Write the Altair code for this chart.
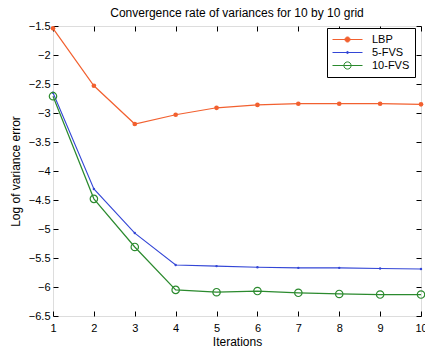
import altair as alt
import pandas as pd

iterations = [1, 2, 3, 4, 5, 6, 7, 8, 9, 10]
lbp = [-1.54, -2.53, -3.19, -3.03, -2.91, -2.86, -2.84, -2.84, -2.84, -2.85]
fvs5 = [-2.65, -4.31, -5.07, -5.62, -5.64, -5.66, -5.67, -5.67, -5.68, -5.69]
fvs10 = [-2.71, -4.48, -5.31, -6.05, -6.09, -6.07, -6.10, -6.12, -6.13, -6.13]
series_names = ["LBP", "5-FVS", "10-FVS"]
series_colors = ["#f2602f", "#3346d6", "#2b8a2e"]
x_ticks = [1, 2, 3, 4, 5, 6, 7, 8, 9, 10]
y_ticks = [-6.5, -6, -5.5, -5, -4.5, -4, -3.5, -3, -2.5, -2, -1.5]

rows = []
for name, vals in zip(series_names, [lbp, fvs5, fvs10]):
    for it, v in zip(iterations, vals):
        rows.append({"series": name, "iter": it, "value": v})
df = pd.DataFrame(rows)

W, H = 368, 290
FONT = "Liberation Sans"

xscale = alt.Scale(domain=[1, 10], nice=False, zero=False)
yscale = alt.Scale(domain=[-6.5, -1.5], nice=False, zero=False)


def X(axis):
    return alt.X("iter:Q", scale=xscale, axis=axis)


def Y(axis):
    return alt.Y("value:Q", scale=yscale, axis=axis)


main_x = alt.Axis(title="Iterations", values=x_ticks, tickSize=0, labelPadding=6,
                  domain=False, grid=False, labelFontSize=11, titleFontSize=12,
                  titleFontWeight="normal", labelColor="black", titleColor="black",
                  titlePadding=3, labelFlush=False, labelFont=FONT, titleFont=FONT)
main_y = alt.Axis(title="Log of variance error", values=y_ticks, format="~g", tickSize=0,
                  labelPadding=3, domain=False, grid=False, labelFontSize=11, titleFontSize=12,
                  titleFontWeight="normal", labelColor="black", titleColor="black",
                  titlePadding=6, labelFlush=False, labelFont=FONT, titleFont=FONT)


def tick_axis(orient, offset, values):
    return alt.Axis(orient=orient, offset=offset, values=values, labels=False, domain=False,
                    grid=False, tickSize=5, tickColor="black", title=None)


def flt(name):
    return alt.datum.series == name


base = alt.Chart(df)

l1 = base.transform_filter(flt("LBP")).mark_line(color=series_colors[0], strokeWidth=1.2).encode(
    x=X(main_x), y=Y(main_y))
p1 = base.transform_filter(flt("LBP")).mark_point(filled=True, size=22, color=series_colors[0], opacity=1).encode(
    x=X(tick_axis("top", -H, x_ticks)), y=Y(tick_axis("right", -W, y_ticks)))
l2 = base.transform_filter(flt("5-FVS")).mark_line(color=series_colors[1], strokeWidth=1.1).encode(
    x=X(tick_axis("bottom", -H, x_ticks)), y=Y(tick_axis("left", -W, y_ticks)))
p2 = base.transform_filter(flt("5-FVS")).mark_point(filled=True, size=6, color=series_colors[1], opacity=1).encode(
    x=X(None), y=Y(None))
l3 = base.transform_filter(flt("10-FVS")).mark_line(color=series_colors[2], strokeWidth=1.2).encode(
    x=X(None), y=Y(None))
p3 = base.transform_filter(flt("10-FVS")).mark_point(filled=False, size=55, color=series_colors[2],
                                                    strokeWidth=1.2, opacity=1).encode(
    x=X(None), y=Y(None))


def legend_path(r):
    c = 1.5
    a = f"{c - r:.2f},0"
    b = f"{c + r:.2f},0"
    return f"M-1,0H4M{a}A{r},{r},0,1,0,{b}A{r},{r},0,1,0,{a}Z"


legend_paths = [legend_path(0.42), legend_path(0.17), legend_path(0.6)]

leg = alt.Legend(orient="none", legendX=274, legendY=2, title=None, padding=5,
                 strokeColor="black", fillColor="white", labelFontSize=11, labelFont=FONT,
                 labelColor="black", labelOffset=27, symbolSize=144, symbolStrokeWidth=1,
                 rowPadding=1, cornerRadius=0)

legend_layer = base.transform_filter("false").mark_point(filled=False, strokeWidth=1, opacity=1).encode(
    color=alt.Color("series:N", scale=alt.Scale(domain=series_names, range=series_colors), legend=leg),
    shape=alt.Shape("series:N", scale=alt.Scale(domain=series_names, range=legend_paths), legend=leg),
    fill=alt.Fill("series:N", scale=alt.Scale(domain=series_names,
                                             range=[series_colors[0], series_colors[1], "transparent"]),
                  legend=leg),
)

chart = alt.layer(l1, p1, l2, p2, l3, p3, legend_layer).resolve_scale(
    x="independent", y="independent"
).properties(
    width=W, height=H,
    title=alt.TitleParams("Convergence rate of variances for 10 by 10 grid", fontSize=12,
                          fontWeight="normal", anchor="middle", offset=0, font=FONT, color="black"),
    padding={"left": 53, "top": 26, "right": 4, "bottom": 38},
    autosize=alt.AutoSizeParams(type="none"),
).configure_view(stroke="black", strokeWidth=1).configure(background="white")

chart.save("out.html", embed_options={"renderer": "svg", "actions": False})
